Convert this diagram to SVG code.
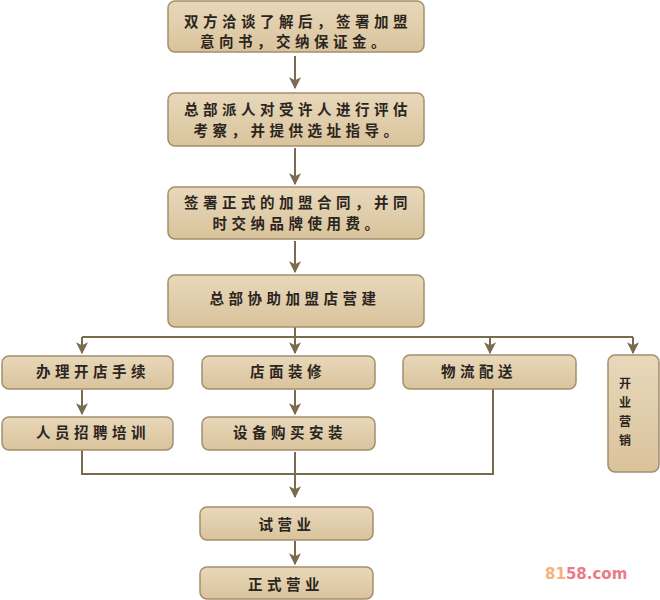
<svg xmlns="http://www.w3.org/2000/svg" width="660" height="600" viewBox="0 0 660 600">
<defs>
<linearGradient id="g" x1="0" y1="0" x2="0" y2="1">
<stop offset="0" stop-color="#e8d8ba"/>
<stop offset="1" stop-color="#d9c39c"/>
</linearGradient>
<marker id="a" viewBox="0 0 10 10" refX="9" refY="5" markerWidth="6" markerHeight="6" orient="auto">
<path d="M0,0 L10,5 L0,10 L2.5,5 Z" fill="#7a6a4e"/>
</marker>
</defs>
<style>
.box{fill:url(#g);stroke:#a48f6d;stroke-width:1.5}
.t{font-family:"Noto Sans CJK SC","Noto Sans CJK TC",sans-serif;font-size:14.5px;font-weight:bold;fill:#2b2520;text-anchor:middle;letter-spacing:4.5px}
.v{font-family:"Noto Sans CJK SC","Noto Sans CJK TC",sans-serif;font-size:12px;font-weight:bold;fill:#2b2520;text-anchor:middle}
.c{fill:none;stroke:#7a6a4e;stroke-width:2}
.w{font-family:"DejaVu Sans","Liberation Sans",sans-serif;font-size:15px;font-weight:bold}
</style>
<rect width="660" height="600" fill="#ffffff"/>

<g id="connectors">
<line class="c" x1="295" y1="56" x2="295" y2="88" marker-end="url(#a)"/>
<line class="c" x1="295" y1="148" x2="295" y2="184" marker-end="url(#a)"/>
<line class="c" x1="295" y1="241" x2="295" y2="272" marker-end="url(#a)"/>
<line class="c" x1="295" y1="327" x2="295" y2="337"/>
<polyline class="c" points="82,337 633,337"/>
<line class="c" x1="82" y1="337" x2="82" y2="353" marker-end="url(#a)"/>
<line class="c" x1="295" y1="337" x2="295" y2="353" marker-end="url(#a)"/>
<line class="c" x1="490" y1="337" x2="490" y2="353" marker-end="url(#a)"/>
<line class="c" x1="633" y1="337" x2="633" y2="353" marker-end="url(#a)"/>
<line class="c" x1="82" y1="390" x2="82" y2="414" marker-end="url(#a)"/>
<line class="c" x1="295" y1="390" x2="295" y2="414" marker-end="url(#a)"/>
<polyline class="c" points="82,450 82,474 493,474 493,389"/>
<line class="c" x1="295" y1="452" x2="295" y2="497" marker-end="url(#a)"/>
<line class="c" x1="295" y1="541" x2="295" y2="564" marker-end="url(#a)"/>
</g>

<g id="n1">
<rect class="box" x="168" y="1" width="256" height="51" rx="7"/>
<text class="t" x="298" y="27">双方洽谈了解后，签署加盟</text>
<text class="t" x="295" y="47">意向书，交纳保证金。</text>
</g>
<g id="n2">
<rect class="box" x="168" y="93" width="256" height="53" rx="7"/>
<text class="t" x="298" y="115">总部派人对受许人进行评估</text>
<text class="t" x="298" y="136">考察，并提供选址指导。</text>
</g>
<g id="n3">
<rect class="box" x="168" y="187" width="256" height="52" rx="7"/>
<text class="t" x="298" y="208">签署正式的加盟合同，并同</text>
<text class="t" x="298" y="229">时交纳品牌使用费。</text>
</g>
<g id="n4">
<rect class="box" x="168" y="275" width="256" height="52" rx="7"/>
<text class="t" x="295" y="304">总部协助加盟店营建</text>
</g>
<g id="n5">
<rect class="box" x="2" y="356" width="171" height="33" rx="7"/>
<text class="t" x="93" y="377">办理开店手续</text>
</g>
<g id="n6">
<rect class="box" x="202" y="356" width="173" height="33" rx="7"/>
<text class="t" x="288" y="377">店面装修</text>
</g>
<g id="n7">
<rect class="box" x="403" y="355" width="173" height="34" rx="7"/>
<text class="t" x="479" y="377">物流配送</text>
</g>
<g id="n8">
<rect class="box" x="608" y="355" width="51" height="117" rx="7"/>
<text class="v"><tspan x="625" y="388">开</tspan><tspan x="625" y="407">业</tspan><tspan x="625" y="426">营</tspan><tspan x="625" y="445">销</tspan></text>
</g>
<g id="n9">
<rect class="box" x="2" y="417" width="171" height="33" rx="7"/>
<text class="t" x="93" y="438">人员招聘培训</text>
</g>
<g id="n10">
<rect class="box" x="202" y="417" width="173" height="33" rx="7"/>
<text class="t" x="290" y="438">设备购买安装</text>
</g>
<g id="n11">
<rect class="box" x="200" y="507" width="173" height="33" rx="7"/>
<text class="t" x="287" y="530">试营业</text>
</g>
<g id="n12">
<rect class="box" x="200" y="567" width="173" height="32" rx="7"/>
<text class="t" x="286" y="590">正式营业</text>
</g>

<text class="w" x="545" y="579"><tspan fill="#f6b27a">81</tspan><tspan fill="#ec7a88">58.com</tspan></text>
</svg>
